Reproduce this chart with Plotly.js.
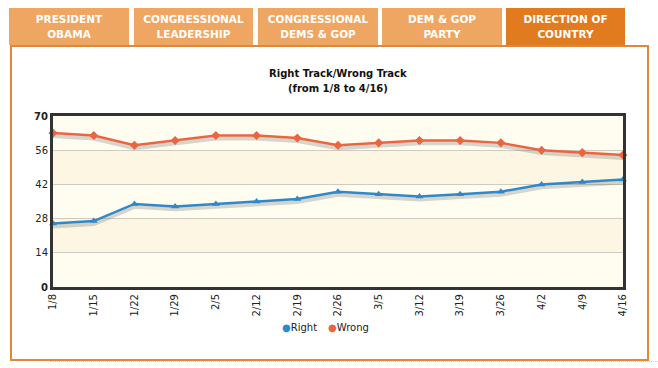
<!DOCTYPE html>
<html>
<head>
<meta charset="utf-8">
<script src="https://cdn.plot.ly/plotly-3.0.1.min.js"></script>
<style>
  html, body { margin:0; padding:0; background:#fff; }
  #wrap { position:relative; width:658px; height:368px; overflow:hidden; font-family:"DejaVu Sans", Verdana, sans-serif; }
  .tab { position:absolute; top:8px; height:37px; background:#EFA662; color:#fff; font-weight:bold; font-size:10.5px;
         text-align:center; line-height:15px; box-sizing:border-box; padding-top:4px; letter-spacing:0px; }
  .tab.active { background:#E27A1F; }
  #box { position:absolute; left:10px; top:45px; width:635px; height:312px; border:2px solid #E0873A; }
  #dots { position:absolute; left:50px; top:361px; width:608px; border-top:1px dotted #EBC9A6; }
  #chart { position:absolute; left:0; top:0; width:658px; height:368px; }
</style>
</head>
<body>
<div id="wrap">
  <div id="box"></div>
  <div id="dots"></div>
  <div class="tab" style="left:9px;width:120px;">PRESIDENT<br>OBAMA</div>
  <div class="tab" style="left:134px;width:119px;">CONGRESSIONAL<br>LEADERSHIP</div>
  <div class="tab" style="left:258px;width:120px;">CONGRESSIONAL<br>DEMS &amp; GOP</div>
  <div class="tab" style="left:382px;width:120px;">DEM &amp; GOP<br>PARTY</div>
  <div class="tab active" style="left:506px;width:119px;">DIRECTION OF<br>COUNTRY</div>
  <div id="chart"></div>
</div>
<script>
const dates = ["1/8","1/15","1/22","1/29","2/5","2/12","2/19","2/26","3/5","3/12","3/19","3/26","4/2","4/9","4/16"];
const rightTrack = [26,27,34,33,34,35,36,39,38,37,38,39,42,43,44];
const wrongTrack = [63,62,58,60,62,62,61,58,59,60,60,59,56,55,54];
const yTicks = [0,14,28,42,56,70];
const yTickText = ["<b>0</b>","14","28","42","56","<b>70</b>"];
const seriesNames = ["Right","Wrong"];

const blue = "#2E88CC";
const orange = "#EA6640";
const shadowOffset = 1.2;

const shadow = (vals) => vals.map(v => v - shadowOffset);

const traces = [
  {x: dates, y: shadow(wrongTrack), mode: "lines", line: {color: "rgba(120,120,120,0.3)", width: 4}, showlegend: false, hoverinfo: "skip", cliponaxis: false},
  {x: dates, y: shadow(rightTrack), mode: "lines", line: {color: "rgba(120,120,120,0.3)", width: 4}, showlegend: false, hoverinfo: "skip", cliponaxis: false},
  {x: dates, y: rightTrack, name: seriesNames[0], mode: "lines+markers", line: {color: blue, width: 2.5},
   marker: {symbol: "triangle-up", size: 7, color: blue}, showlegend: false, cliponaxis: false},
  {x: dates, y: wrongTrack, name: seriesNames[1], mode: "lines+markers", line: {color: orange, width: 2.5},
   marker: {symbol: "diamond", size: 7, color: orange}, showlegend: false, cliponaxis: false}
];

const bands = [];
for (let i = 0; i < yTicks.length - 1; i++) {
  bands.push({type: "rect", xref: "paper", yref: "y", x0: 0, x1: 1, y0: yTicks[i], y1: yTicks[i+1],
    fillcolor: (i % 2 === 1) ? "#FCF6E2" : "#FFFDF0", line: {width: 0}, layer: "below"});
}

// paper coordinates helpers (plot area spans x 53..623, y 116..287 in pixels)
const px = (p) => (p - 53) / 570;
const py = (p) => (287 - p) / 171;

const annotations = [
  {text: "<b>Right Track/Wrong Track</b>", xref: "paper", yref: "paper", x: px(338), y: py(73),
   xanchor: "center", yanchor: "middle", showarrow: false, font: {size: 10, color: "#111"}},
  {text: "<b>(from 1/8 to 4/16)</b>", xref: "paper", yref: "paper", x: px(338), y: py(88),
   xanchor: "center", yanchor: "middle", showarrow: false, font: {size: 10, color: "#111"}},
  {text: "<span style='color:" + blue + "'>●</span>" + seriesNames[0], xref: "paper", yref: "paper",
   x: px(280), y: py(327), xanchor: "left", yanchor: "middle", showarrow: false, font: {size: 10, color: "#222"}},
  {text: "<span style='color:" + orange + "'>●</span>" + seriesNames[1], xref: "paper", yref: "paper",
   x: px(326), y: py(327), xanchor: "left", yanchor: "middle", showarrow: false, font: {size: 10, color: "#222"}}
];

const layout = {
  width: 658, height: 368,
  margin: {l: 53, r: 35, t: 116, b: 81},
  paper_bgcolor: "rgba(0,0,0,0)",
  plot_bgcolor: "#FFFDF0",
  font: {family: "DejaVu Sans, Verdana, sans-serif", size: 10, color: "#222"},
  xaxis: {
    type: "category", categoryorder: "array", categoryarray: dates,
    range: [0, dates.length - 1], automargin: false,
    tickangle: -90, tickfont: {size: 10, color: "#222"},
    showgrid: false, zeroline: false,
    showline: true, linecolor: "#333", linewidth: 3, mirror: true,
    ticks: "", fixedrange: true
  },
  yaxis: {
    range: [0, 70], tickvals: yTicks, ticktext: yTickText, automargin: false,
    tickfont: {size: 10, color: "#222"},
    showgrid: true, gridcolor: "#CFCBBF", gridwidth: 1, zeroline: false,
    showline: true, linecolor: "#333", linewidth: 3, mirror: true,
    ticks: "", fixedrange: true
  },
  shapes: bands,
  annotations: annotations,
  showlegend: false
};

Plotly.newPlot("chart", traces, layout, {displayModeBar: false, staticPlot: true});
</script>
</body>
</html>
